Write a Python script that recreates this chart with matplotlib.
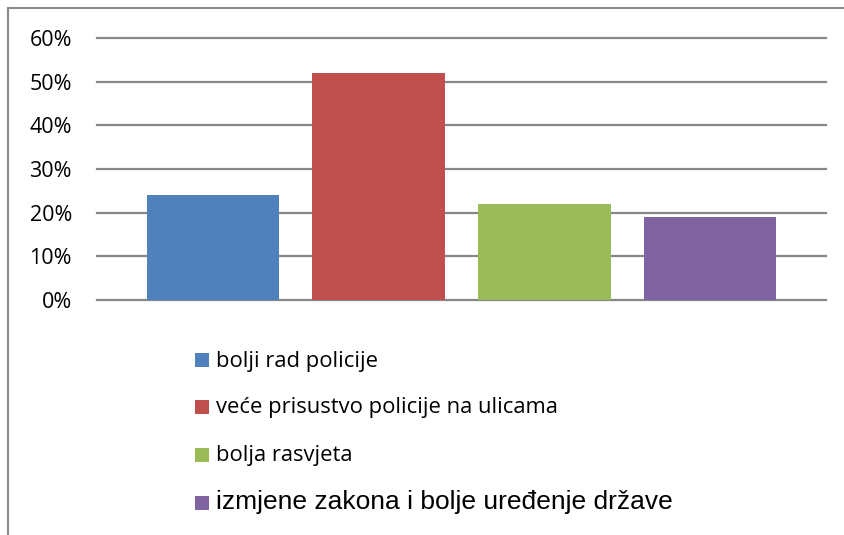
import matplotlib.pyplot as plt
from matplotlib.patches import Rectangle
from matplotlib.lines import Line2D
from matplotlib.ticker import PercentFormatter

plt.rcParams['font.family'] = ['Open Sans', 'DejaVu Sans']

labels = ['bolji rad policije', 'veće prisustvo policije na ulicama',
          'bolja rasvjeta', 'izmjene zakona i bolje uređenje države']
values = [0.24, 0.52, 0.22, 0.19]
colors = ['#4f81bd', '#c0504d', '#9bbb59', '#8064a2']

W, H = 845, 535
fig = plt.figure(figsize=(W / 100, H / 100), dpi=100)
ax = fig.add_axes([97 / W, 1 - 300 / H, 729 / W, 262 / H])

x = range(len(values))
ax.bar(x, values, width=0.8, color=colors, zorder=3)
ax.set_xlim(-0.70, 3.70)
ax.set_ylim(0, 0.6)
ax.set_yticks([0, 0.1, 0.2, 0.3, 0.4, 0.5, 0.6])
ax.yaxis.set_major_formatter(PercentFormatter(1.0, decimals=0))
ax.yaxis.grid(True, color='#878787', lw=1.6, zorder=0)
for gl in ax.get_ygridlines():
    gl.set_clip_on(False)
ax.set_xticks([])
ax.tick_params(axis='y', length=0, pad=18, labelsize=15.5)
for s in ax.spines.values():
    s.set_visible(False)

# outer frame (left and top only visible)
fig.add_artist(Line2D([8 / W, 8 / W], [0, 1 - 8 / H], color='#8a8a8a', lw=1.5))
fig.add_artist(Line2D([8 / W, 1], [1 - 8 / H, 1 - 8 / H], color='#8a8a8a', lw=1.5))

# legend
rows = [360, 407, 455, 503]
sizes = [15.8, 15.8, 15.8, 19]
fams = [['Open Sans', 'DejaVu Sans']] * 3 + [['Liberation Sans', 'DejaVu Sans']]
for lab, c, yc, fs, fam in zip(labels, colors, rows, sizes, fams):
    fig.add_artist(Rectangle((195 / W, 1 - (yc + 7) / H), 14 / W, 14 / H,
                             transform=fig.transFigure, facecolor=c, edgecolor='none'))
    fig.text(216 / W, 1 - (yc + 6.5) / H, lab, fontsize=fs, va='baseline', ha='left',
             family=fam)

fig.savefig('out.png', dpi=100)
